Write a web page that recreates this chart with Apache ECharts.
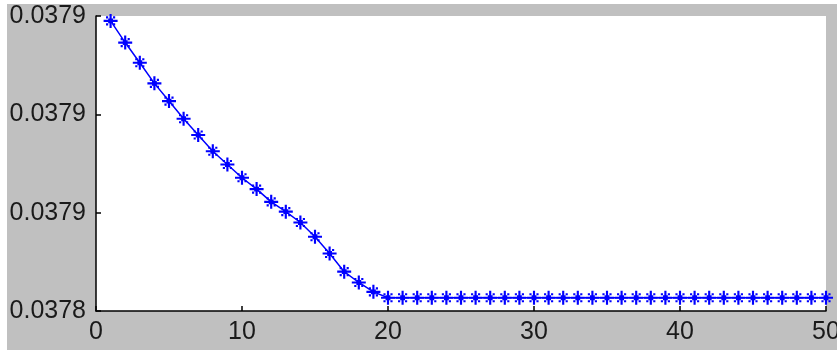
<!DOCTYPE html>
<html>
<head>
<meta charset="utf-8">
<script src="https://cdn.jsdelivr.net/npm/echarts@6/dist/echarts.min.js"></script>
<style>
html,body{margin:0;padding:0;background:#fff;width:837px;height:350px;overflow:hidden;}
#chart{position:absolute;left:7px;top:4px;width:830px;height:346px;background:#c0c0c0;}
</style>
</head>
<body>
<div id="chart"></div>
<script>
const iterations = [1,2,3,4,5,6,7,8,9,10,11,12,13,14,15,16,17,18,19,20,21,22,23,24,25,26,27,28,29,30,31,32,33,34,35,36,37,38,39,40,41,42,43,44,45,46,47,48,49,50];
const values = [
  0.0378990, 0.0378946, 0.0378905, 0.0378863, 0.0378827,
  0.0378791, 0.0378758, 0.0378725, 0.0378698, 0.0378671,
  0.0378648, 0.0378622, 0.0378602, 0.0378580, 0.0378551,
  0.0378517, 0.0378480, 0.0378458, 0.0378439, 0.0378427,
  0.0378427, 0.0378427, 0.0378427, 0.0378427, 0.0378427,
  0.0378427, 0.0378427, 0.0378427, 0.0378427, 0.0378427,
  0.0378427, 0.0378427, 0.0378427, 0.0378427, 0.0378427,
  0.0378427, 0.0378427, 0.0378427, 0.0378427, 0.0378427,
  0.0378427, 0.0378427, 0.0378427, 0.0378427, 0.0378427,
  0.0378427, 0.0378427, 0.0378427, 0.0378427, 0.0378427
];
const xTickLabels = ['0','10','20','30','40','50'];
const yTickLabels = ['0.0378','0.0379','0.0379','0.0379'];

const points = iterations.map((x, i) => [x, values[i]]);
const star = 'path://M0,11H26V15H0Z M11,0H15V26H11Z M8.5,8.5H17.5V17.5H8.5Z M4.5,4.5H8.5V8.5H4.5Z M17.5,4.5H21.5V8.5H17.5Z M4.5,17.5H8.5V21.5H4.5Z M17.5,17.5H21.5V21.5H17.5Z';
const font = "'Liberation Sans', Arial, sans-serif";

const chart = echarts.init(document.getElementById('chart'), null, {renderer: 'canvas'});
chart.setOption({
  animation: false,
  backgroundColor: '#c0c0c0',
  grid: {left: 89, top: 12, width: 730, height: 295, show: true, backgroundColor: '#ffffff', borderWidth: 0,
    containLabel: false, outerBoundsMode: 'none'},
  xAxis: {
    type: 'value', min: 0, max: 50, interval: 10,
    axisLine: {show: true, onZero: false, lineStyle: {color: '#000', width: 1.5}},
    axisTick: {show: true, inside: true, length: 5, lineStyle: {color: '#000', width: 1.5}},
    splitLine: {show: false},
    axisLabel: {color: '#1a1a1a', fontFamily: font, fontSize: 25, margin: 9, hideOverlap: false,
      formatter: (v, i) => xTickLabels[i] !== undefined ? xTickLabels[i] : String(v)}
  },
  yAxis: {
    type: 'value', min: 0.03784, max: 0.03790, interval: 0.00002,
    axisLine: {show: true, onZero: false, lineStyle: {color: '#000', width: 1.5}},
    axisTick: {show: true, inside: true, length: 5, lineStyle: {color: '#000', width: 1.5}},
    splitLine: {show: false},
    axisLabel: {color: '#1a1a1a', fontFamily: font, fontSize: 25, margin: 10, hideOverlap: false,
      formatter: (v, i) => yTickLabels[i] !== undefined ? yTickLabels[i] : v.toFixed(4)}
  },
  series: [{
    type: 'line',
    data: points,
    symbol: star,
    symbolSize: 14,
    showAllSymbol: true,
    itemStyle: {color: '#0000ff'},
    lineStyle: {color: '#0000ff', width: 1.5}
  }]
});
</script>
</body>
</html>
